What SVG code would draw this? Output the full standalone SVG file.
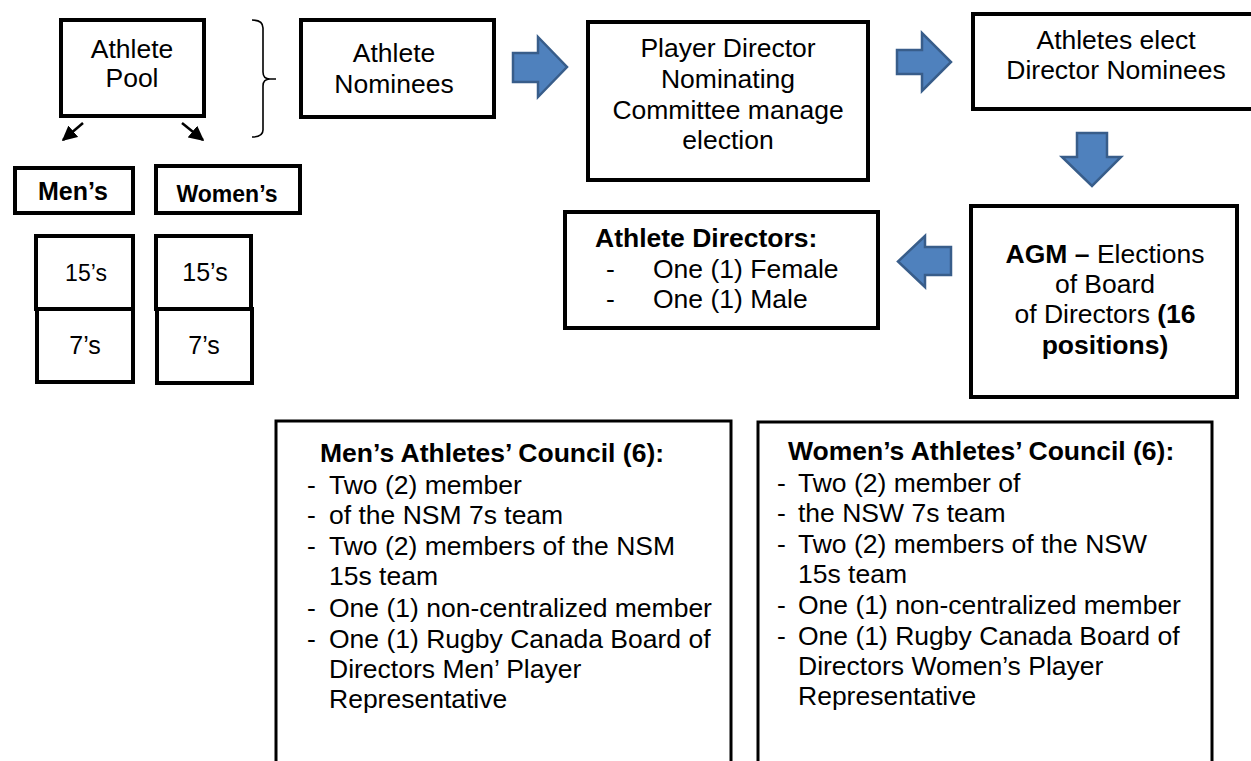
<svg xmlns="http://www.w3.org/2000/svg" width="1251" height="761" viewBox="0 0 1251 761">
  <style>
    .box { fill: #fff; stroke: #000; stroke-width: 4; }
    .thin { stroke-width: 3; }
    .t { font-family: "Liberation Sans", Arial, sans-serif; font-size: 26.5px; fill: #000; }
    .c { text-anchor: middle; }
    .b { font-weight: bold; }
    .blue { fill: #4F81BD; stroke: #385D8A; stroke-width: 2.5; stroke-linejoin: miter; }
    .brace { fill: none; stroke: #000; stroke-width: 1.6; }
    .link { stroke: #000; stroke-width: 2.5; fill: none; }
  </style>
  <defs>
    <marker id="head" viewBox="0 0 10 10" refX="9" refY="5" markerWidth="6" markerHeight="6" orient="auto">
      <path d="M0,0 L10,5 L0,10 z" fill="#000"/>
    </marker>
  </defs>
  <rect width="1251" height="761" fill="#fff"/>

  <!-- connectors -->
  <g id="connectors">
    <line class="link" x1="83" y1="123" x2="63" y2="140" marker-end="url(#head)"/>
    <line class="link" x1="182" y1="123" x2="203" y2="140" marker-end="url(#head)"/>
    <path class="brace" d="M252,20 Q263,20 263,28 L263,72 Q263,79 270,79 L276,79 M270,79 Q263,79 263,86 L263,130 Q263,137 252,137"/>
    <polygon class="blue" points="513,53 538,53 538,37 567,67 538,97 538,82 513,82"/>
    <polygon class="blue" points="897,50 922,50 922,33 951,62 922,91 922,74 897,74"/>
    <polygon class="blue" points="1077,133 1107,133 1107,157 1121,157 1092,186 1062,157 1077,157"/>
    <polygon class="blue" points="951,247 925,247 925,236 898,261.5 925,287 925,275 951,275"/>
  </g>

  <g id="athlete-pool">
    <rect class="box" x="61" y="20" width="143" height="96"/>
    <text class="t c" x="132" y="58">Athlete</text>
    <text class="t c" x="132" y="87">Pool</text>
  </g>

  <g id="mens">
    <rect class="box" x="15" y="168" width="118" height="45"/>
    <text class="t b c" x="73" y="200" style="font-size:25px">Men’s</text>
  </g>

  <g id="womens">
    <rect class="box" x="156" y="166" width="144" height="47"/>
    <text class="t b c" x="227" y="202" style="font-size:23px">Women’s</text>
  </g>

  <g id="mens-15s">
    <rect class="box" x="36" y="236" width="97" height="73"/>
    <text class="t c" x="86" y="281" style="font-size:23px">15’s</text>
  </g>
  <g id="mens-7s">
    <rect class="box" x="37" y="309" width="96" height="73"/>
    <text class="t c" x="85" y="354" style="font-size:25px">7’s</text>
  </g>
  <g id="womens-15s">
    <rect class="box" x="156" y="236" width="95" height="73"/>
    <text class="t c" x="205" y="281" style="font-size:25px">15’s</text>
  </g>
  <g id="womens-7s">
    <rect class="box" x="157" y="309" width="95" height="74"/>
    <text class="t c" x="204" y="354" style="font-size:25px">7’s</text>
  </g>

  <g id="athlete-nominees">
    <rect class="box" x="301" y="20" width="193" height="97"/>
    <text class="t c" x="394" y="62">Athlete</text>
    <text class="t c" x="394" y="93">Nominees</text>
  </g>

  <g id="nominating-committee">
    <rect class="box" x="588" y="22" width="280" height="158"/>
    <text class="t c" x="728" y="57">Player Director</text>
    <text class="t c" x="728" y="88">Nominating</text>
    <text class="t c" x="728" y="119">Committee manage</text>
    <text class="t c" x="728" y="149">election</text>
  </g>

  <g id="athletes-elect">
    <rect class="box" x="973" y="14" width="290" height="95"/>
    <text class="t c" x="1116" y="49">Athletes elect</text>
    <text class="t c" x="1116" y="79">Director Nominees</text>
  </g>

  <g id="agm">
    <rect class="box" x="971" y="206" width="266" height="191"/>
    <text class="t c" x="1105" y="263"><tspan class="b">AGM –</tspan> Elections</text>
    <text class="t c" x="1105" y="293">of Board</text>
    <text class="t c" x="1105" y="323">of Directors <tspan class="b">(16</tspan></text>
    <text class="t c b" x="1105" y="354">positions)</text>
  </g>

  <g id="athlete-directors">
    <rect class="box" x="565" y="212" width="313" height="116"/>
    <text class="t b" x="595" y="247">Athlete Directors:</text>
    <text class="t" x="606" y="278">-</text>
    <text class="t" x="653" y="278">One (1) Female</text>
    <text class="t" x="606" y="308">-</text>
    <text class="t" x="653" y="308">One (1) Male</text>
  </g>

  <g id="mens-council">
    <rect class="box thin" x="276" y="421" width="455" height="360"/>
    <text class="t b" x="320" y="462">Men’s Athletes’ Council (6):</text>
    <g class="t">
      <text x="307" y="494">-</text><text x="329" y="494">Two (2) member</text>
      <text x="307" y="524">-</text><text x="329" y="524">of the NSM 7s team</text>
      <text x="307" y="555">-</text><text x="329" y="555">Two (2) members of the NSM</text>
      <text x="329" y="585">15s team</text>
      <text x="307" y="617">-</text><text x="329" y="617">One (1) non-centralized member</text>
      <text x="307" y="648">-</text><text x="329" y="648">One (1) Rugby Canada Board of</text>
      <text x="329" y="678">Directors Men’ Player</text>
      <text x="329" y="708">Representative</text>
    </g>
  </g>

  <g id="womens-council">
    <rect class="box thin" x="758" y="422" width="454" height="360"/>
    <text class="t b" x="788" y="460">Women’s Athletes’ Council (6):</text>
    <g class="t">
      <text x="777" y="492">-</text><text x="798" y="492">Two (2) member of</text>
      <text x="777" y="522">-</text><text x="798" y="522">the NSW 7s team</text>
      <text x="777" y="553">-</text><text x="798" y="553">Two (2) members of the NSW</text>
      <text x="798" y="583">15s team</text>
      <text x="777" y="614">-</text><text x="798" y="614">One (1) non-centralized member</text>
      <text x="777" y="645">-</text><text x="798" y="645">One (1) Rugby Canada Board of</text>
      <text x="798" y="675">Directors Women’s Player</text>
      <text x="798" y="705">Representative</text>
    </g>
  </g>
</svg>
